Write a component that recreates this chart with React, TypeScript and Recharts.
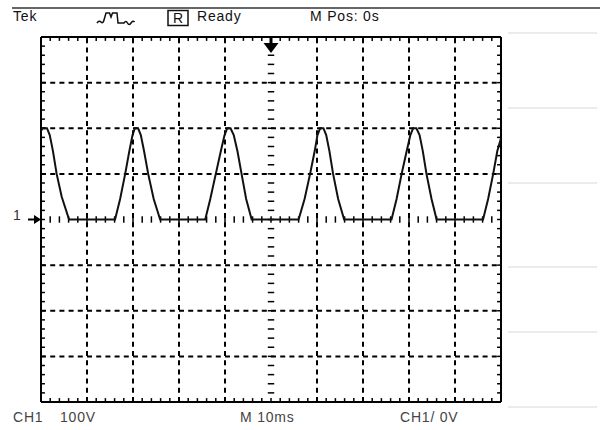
import { LineChart, Line, XAxis, YAxis, ReferenceLine, ReferenceDot } from "recharts"

// trace: time in ms, voltage in V (10 ms/div, 100 V/div)
const times = [
  0, 0.4, 1.3, 1.9, 2.6, 3.4, 4.5, 6.1,
  16.1, 17.2, 18.3, 19.2, 19.9, 20.4, 21.1, 21.7, 22.4, 23.3, 24.5, 25.9,
  35.7, 36.8, 38.0, 39.1, 39.9, 40.5, 41.2, 41.9, 42.7, 43.6, 44.6, 45.8,
  56.0, 57.3, 58.5, 59.5, 60.1, 60.7, 61.4, 62.0, 62.7, 63.5, 64.6, 65.9,
  76.2, 77.3, 78.4, 79.5, 80.3, 80.9, 81.6, 82.3, 83.0, 83.8, 84.9, 86.0,
  96.1, 97.2, 98.3, 99.2, 100,
]
const volts = [
  195, 200, 200, 185, 150, 100, 50, 0,
  0, 45, 100, 150, 185, 200, 200, 185, 150, 100, 45, 0,
  0, 45, 100, 150, 185, 200, 200, 185, 150, 100, 45, 0,
  0, 45, 100, 150, 185, 200, 200, 185, 150, 100, 45, 0,
  0, 45, 100, 150, 185, 200, 200, 185, 150, 100, 45, 0,
  0, 45, 100, 150, 178,
]

const gridTimes = [10, 20, 30, 40, 60, 70, 80, 90]
const gridVolts = [-300, -200, -100, 100, 200, 300]
const edgeTimes = [0, 100]
const edgeVolts = [-400, 400]
// minor ticks: 5 per division
const minorTimes = Array.from({ length: 49 }, (_, i) => (i + 1) * 2)
const minorVolts = Array.from({ length: 39 }, (_, i) => -380 + i * 20)

const trace = times.map((t, i) => ({ t, v: volts[i] }))

const TICK_T = 0.85
const TICK_V = 8.5
const CTR_T = 0.7
const CTR_V = 7

const font = "'Liberation Sans', Arial, sans-serif"

const TriggerArrow = ({ cx, cy }: any) => (
  <g>
    <rect x={cx - 1.5} y={cy} width={3} height={7} fill="#000" />
    <polygon points={`${cx - 7.5},${cy + 6} ${cx + 7.5},${cy + 6} ${cx},${cy + 16}`} fill="#000" />
  </g>
)

const GroundMarker = ({ cx, cy }: any) => (
  <g>
    <text x={cx - 28} y={cy} fontFamily={font} fontSize={14} fill="#333">1</text>
    <line x1={cx - 13} y1={cy} x2={cx - 3} y2={cy} stroke="#000" strokeWidth={2} />
    <polygon points={`${cx - 7},${cy - 4.5} ${cx},${cy} ${cx - 7},${cy + 4.5}`} fill="#000" />
  </g>
)

const sideLines = [33, 108, 183, 267, 332, 407]

const App = () => {
  const tk = { stroke: "#000", strokeWidth: 1.5, ifOverflow: "visible" as const }
  return (
    <div style={{ position: "absolute", left: 0, top: 0, width: 600, height: 430, background: "#fff" }}>
      <LineChart width={600} height={430} data={trace} margin={{ top: 37, left: 41, right: 99, bottom: 28 }}>
        <XAxis dataKey="t" type="number" domain={[0, 100]} hide allowDataOverflow />
        <YAxis type="number" domain={[-400, 400]} hide allowDataOverflow />
        {gridTimes.map((t) => (
          <ReferenceLine key={`gx${t}`} x={t} stroke="#000" strokeWidth={2} strokeDasharray="5 4.2" />
        ))}
        {gridVolts.map((v) => (
          <ReferenceLine key={`gy${v}`} y={v} stroke="#000" strokeWidth={2} strokeDasharray="5 4.2" />
        ))}
        {minorTimes.map((t) => (
          <ReferenceLine key={`tt${t}`} segment={[{ x: t, y: 400 }, { x: t, y: 400 - TICK_V }]} {...tk} />
        ))}
        {minorTimes.map((t) => (
          <ReferenceLine key={`tb${t}`} segment={[{ x: t, y: -400 }, { x: t, y: -400 + TICK_V }]} {...tk} />
        ))}
        {minorTimes.map((t) => (
          <ReferenceLine key={`tc${t}`} segment={[{ x: t, y: -CTR_V }, { x: t, y: CTR_V }]} {...tk} />
        ))}
        {minorVolts.map((v) => (
          <ReferenceLine key={`vl${v}`} segment={[{ x: 0, y: v }, { x: TICK_T, y: v }]} {...tk} />
        ))}
        {minorVolts.map((v) => (
          <ReferenceLine key={`vr${v}`} segment={[{ x: 100, y: v }, { x: 100 - TICK_T, y: v }]} {...tk} />
        ))}
        {minorVolts.map((v) => (
          <ReferenceLine key={`vc${v}`} segment={[{ x: 50 - CTR_T, y: v }, { x: 50 + CTR_T, y: v }]} {...tk} />
        ))}
        {edgeTimes.map((t) => (
          <ReferenceLine key={`ex${t}`} x={t} stroke="#000" strokeWidth={2} ifOverflow="visible" />
        ))}
        {edgeVolts.map((v) => (
          <ReferenceLine key={`ey${v}`} y={v} stroke="#000" strokeWidth={2} ifOverflow="visible" />
        ))}
        <Line
          type="linear"
          dataKey="v"
          stroke="#111"
          strokeWidth={2}
          dot={false}
          isAnimationActive={false}
        />
        <ReferenceDot x={50} y={400} r={0} shape={TriggerArrow} ifOverflow="visible" />
        <ReferenceDot x={0} y={0} r={0} shape={GroundMarker} ifOverflow="visible" />
      </LineChart>
      <svg
        width={600}
        height={430}
        style={{ position: "absolute", left: 0, top: 0, pointerEvents: "none" }}
      >
        <line x1={12} y1={8} x2={600} y2={8} stroke="#666" strokeWidth={2} />
        {sideLines.map((y) => (
          <line key={y} x1={508} y1={y} x2={597} y2={y} stroke="#e4e4e4" strokeWidth={1.5} />
        ))}
        <g fontFamily={font} fontSize={14} letterSpacing={0.8} fill="#111">
          <text x={13} y={21}>Tek</text>
          <path
            d="M97,23 q2,-3 4,-1 t3,-2 L106,13 L109.5,13 L111,17 L112.5,13 L117,13 L118,23 L124,23 q2,-3 3.5,0 t3.5,0 t3.5,-1"
            fill="none"
            stroke="#111"
            strokeWidth={1.5}
          />
          <rect x={168} y={10.5} width={20} height={15} fill="none" stroke="#111" strokeWidth={1.5} />
          <text x={178} y={23} textAnchor="middle" letterSpacing={0}>R</text>
          <text x={197} y={21}>Ready</text>
          <text x={310} y={21}>M Pos: 0s</text>
        </g>
        <g fontFamily={font} fontSize={14} letterSpacing={0.8} fill="#444">
          <text x={13} y={422}>CH1</text>
          <text x={60} y={422}>100V</text>
          <text x={240} y={422}>M 10ms</text>
          <text x={400} y={422}>CH1/ 0V</text>
        </g>
      </svg>
    </div>
  )
}

export default App
